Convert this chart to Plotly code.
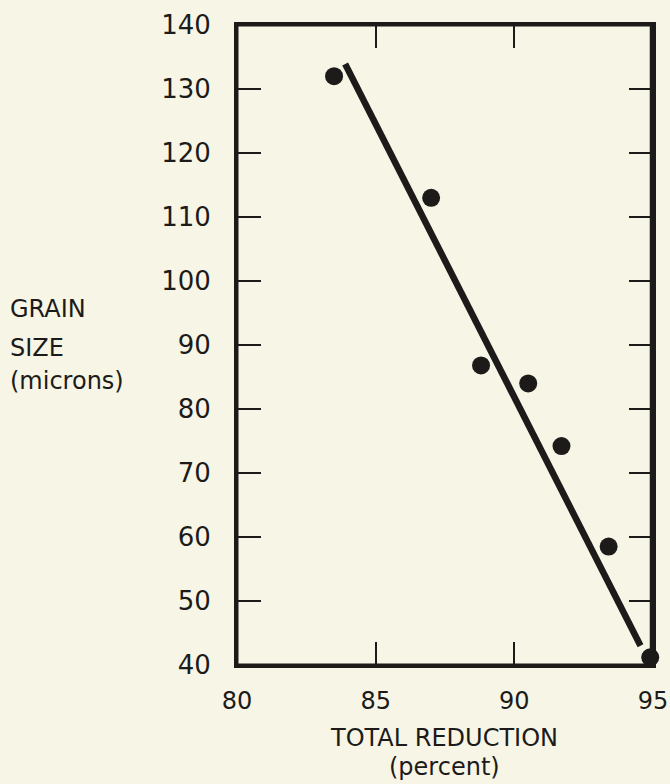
import plotly.graph_objects as go

# Data
reduction_pct = [83.5, 87.0, 88.8, 90.5, 91.7, 93.4, 94.9]
grain_size = [132.0, 113.0, 86.8, 84.0, 74.2, 58.5, 41.2]
fit_x = [83.9, 94.55]
fit_y = [133.9, 43.0]
x_ticks = [80, 85, 90, 95]
y_ticks = [40, 50, 60, 70, 80, 90, 100, 110, 120, 130, 140]

ink = "#1c1b19"
paper = "#f7f5e6"
font_family = "DejaVu Sans, Verdana, sans-serif"

fig = go.Figure()
fig.add_trace(go.Scatter(x=fit_x, y=fit_y, mode="lines",
                         line=dict(color=ink, width=6.5), showlegend=False))
fig.add_trace(go.Scatter(x=reduction_pct, y=grain_size, mode="markers",
                         marker=dict(color=ink, size=18), showlegend=False,
                         cliponaxis=False))

fig.update_layout(
    width=670, height=784,
    margin=dict(l=237, r=17, t=25, b=119),
    paper_bgcolor=paper, plot_bgcolor=paper,
    font=dict(family=font_family, color=ink),
    xaxis=dict(range=[80, 95], tickvals=x_ticks, ticks="inside", ticklen=23,
               tickwidth=2, tickcolor=ink, showline=True, linecolor=ink,
               linewidth=3, mirror="allticks", showgrid=False, zeroline=False,
               tickfont=dict(size=24, color=ink), ticklabelstandoff=12,
               ticklabeloverflow="allow", automargin=False),
    yaxis=dict(range=[40, 140], tickvals=y_ticks, ticks="inside", ticklen=24,
               tickwidth=2, tickcolor=ink, showline=True, linecolor=ink,
               linewidth=3, mirror="allticks", showgrid=False, zeroline=False,
               tickfont=dict(size=26, color=ink), ticklabelstandoff=18,
               ticklabeloverflow="allow", automargin=False),
)

# explicit frame so the right edge is always drawn
fig.add_shape(type="rect", xref="paper", yref="paper", x0=0, y0=0, x1=1, y1=1,
              line=dict(color=ink, width=3), layer="above")
fig.add_shape(type="line", xref="paper", yref="paper", x0=0.997, y0=0,
              x1=0.997, y1=1, line=dict(color=ink, width=4), layer="above")

ann = [
    ("TOTAL REDUCTION", 0.4976, -0.114, "center", 24),
    ("(percent)", 0.4976, -0.160, "center", 24),
    ("GRAIN", -0.55, 0.556, "left", 24),
    ("SIZE", -0.55, 0.495, "left", 24),
    ("(microns)", -0.55, 0.443, "left", 24),
]
for text, x, y, xa, sz in ann:
    fig.add_annotation(text=text, x=x, y=y, xref="paper", yref="paper",
                       xanchor=xa, yanchor="middle", showarrow=False,
                       font=dict(size=sz, color=ink, family=font_family))

fig.write_html(
    "out.html",
    config={"displayModeBar": False},
    post_script="document.body.style.margin='0';"
                "document.body.style.overflow='hidden';"
                "document.documentElement.style.overflow='hidden';"
                "document.body.style.background='#f7f5e6';",
)
